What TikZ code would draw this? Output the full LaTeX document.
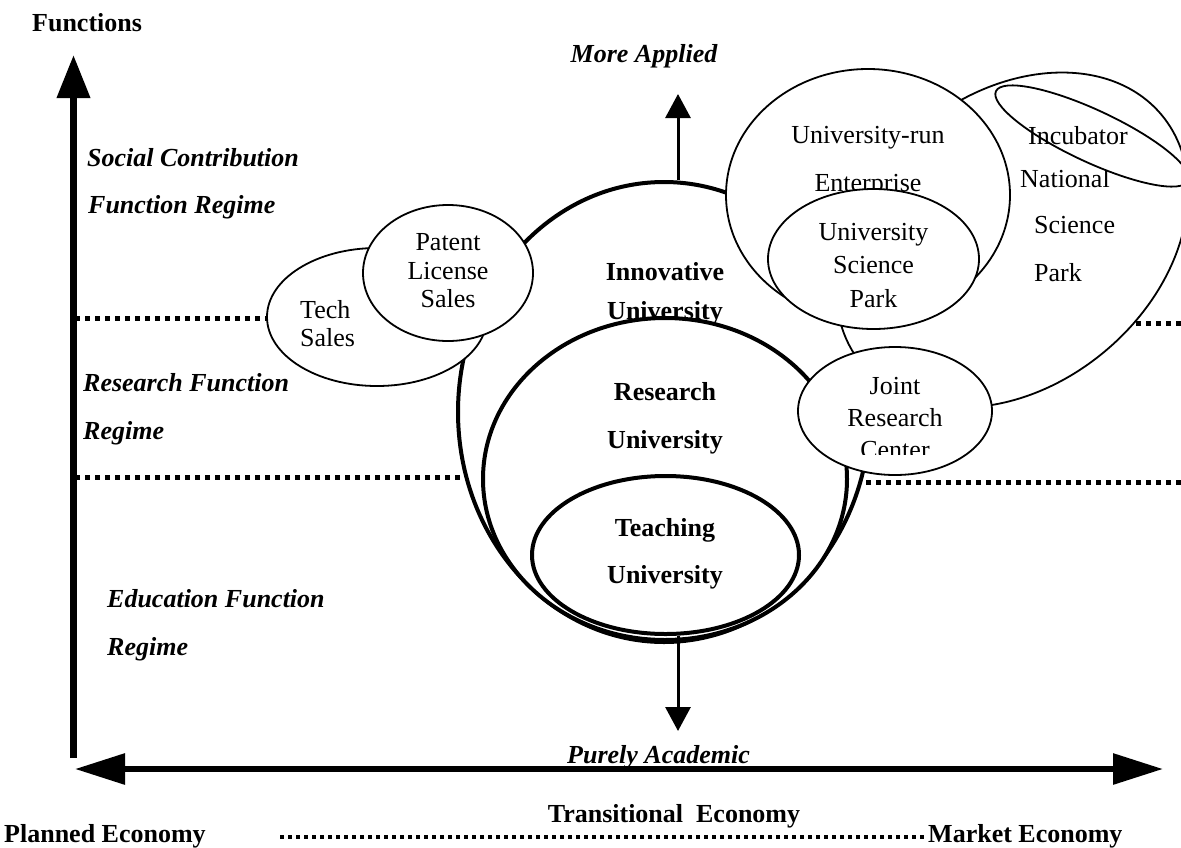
\documentclass[tikz,border=0pt]{standalone}
\usepackage{fontspec}
\setmainfont{Liberation Serif}
\usetikzlibrary{shapes.geometric,arrows.meta}

\begin{document}
\begin{tikzpicture}[x=1pt,y=-1pt,
  txt/.style={inner sep=0pt, font=\fontsize{26}{31}\selectfont},
  bf/.style={inner sep=0pt, font=\fontsize{26}{31}\selectfont\bfseries},
  bfit/.style={inner sep=0pt, font=\fontsize{26}{31}\selectfont\bfseries\itshape},
  oval/.style={ellipse, draw, fill=white, inner sep=0pt, line width=1.8pt},
  thickoval/.style={oval, line width=4pt},
  divider/.style={line width=5pt, dash pattern=on 5pt off 5pt},
  smallarrow/.style={line width=3pt, -{Triangle[length=24pt,width=25pt]}}
]
\useasboundingbox (0,0) rectangle (1181,847);

% regime dividers (drawn first, the ovals cover their inner ends)
\coordinate (d1a) at (75,318);   \coordinate (d1b) at (300,318);
\coordinate (d2a) at (75,477);   \coordinate (d2b) at (520,477);
\coordinate (d3a) at (1181,323); \coordinate (d3b) at (1100,323);
\coordinate (d4a) at (1181,482); \coordinate (d4b) at (820,482);
\draw[divider] (d1a) -- (d1b);
\draw[divider] (d2a) -- (d2b);
\draw[divider] (d3a) -- (d3b);
\draw[divider] (d4a) -- (d4b);

% axes
\coordinate (yfoot) at (73.5,758); \coordinate (ytip) at (73.5,55);
\draw[line width=7pt, -{Triangle[length=43pt,width=32pt]}] (yfoot) -- (ytip);
\coordinate (xl) at (75,769); \coordinate (xr) at (1163,769);
\draw[line width=6pt, {Triangle[length=50pt,width=30pt]}-{Triangle[length=50pt,width=30pt]}] (xl) -- (xr);

% innovative university
\node[thickoval, minimum width=412pt, minimum height=460pt] (innov) at (664,412) {};
\node[bf, anchor=base] (innovA) at (665,280) {Innovative};
\node[bf, anchor=base] (innovB) at (665,319) {University};

% tech sales and patent licensing
\node[oval, minimum width=220pt, minimum height=138pt] (tech) at (377,317) {};
\node[txt, anchor=base west] (techA) at (300,318) {Tech};
\node[txt, anchor=base west] (techB) at (300,346) {Sales};
\node[oval, minimum width=170pt, minimum height=136pt] (pat) at (448,273) {};
\node[txt, anchor=base] (patA) at (448,250) {Patent};
\node[txt, anchor=base] (patB) at (448,279) {License};
\node[txt, anchor=base] (patC) at (448,307) {Sales};

% national science park
\node[oval, rotate=40, minimum width=390pt, minimum height=290pt] (nsp) at (1012,240) {};

% research and teaching universities
\node[thickoval, minimum width=364pt, minimum height=322pt] (res) at (665,479) {};
\node[bf, anchor=base] (resA) at (665,400) {Research};
\node[bf, anchor=base] (resB) at (665,448) {University};
\node[thickoval, minimum width=267pt, minimum height=158pt] (teach) at (665.5,555) {};
\node[bf, anchor=base] (teachA) at (665,536) {Teaching};
\node[bf, anchor=base] (teachB) at (665,583) {University};

% university-run enterprise and university science park
\node[oval, minimum width=284pt, minimum height=252pt] (ure) at (868,195) {};
\node[txt, anchor=base] (ureA) at (868,143) {University-run};
\node[txt, anchor=base] (ureB) at (868,191) {Enterprise};
\node[oval, minimum width=211pt, minimum height=140pt] (usp) at (873.5,259) {};
\node[txt, anchor=base] (uspA) at (873.5,240) {University};
\node[txt, anchor=base] (uspB) at (873.5,273) {Science};
\node[txt, anchor=base] (uspC) at (873.5,307) {Park};

% national science park labels and incubator
\node[txt, anchor=base west] (nspA) at (1020,187) {National};
\node[txt, anchor=base west] (nspB) at (1034,233) {Science};
\node[txt, anchor=base west] (nspC) at (1034,281) {Park};
\node[oval, rotate=-25, minimum width=212pt, minimum height=52pt] (incu) at (1092,136) {};
\node[txt, anchor=base west] (incuA) at (1028,144) {Incubator};

% joint research center
\node[oval, minimum width=194pt, minimum height=128pt] (jrc) at (895,411) {};
\node[txt, anchor=base] (jrcA) at (895,394) {Joint};
\node[txt, anchor=base] (jrcB) at (895,426) {Research};
\begin{scope}
  \clip (790,430) rectangle (1000,454);
  \node[txt, anchor=base] (jrcC) at (895,458) {Center};
\end{scope}

% applied / academic arrows
\coordinate (uptip) at (678,94);
\coordinate (downtip) at (678,731);
\draw[smallarrow] (innov.north -| uptip) -- (uptip);
\draw[smallarrow] (teach.south -| downtip) -- (downtip);

% axis and regime labels
\node[bf, anchor=base west] (fn) at (32,31) {Functions};
\node[bfit, anchor=base] (applied) at (644,62) {More Applied};
\node[bfit, anchor=base west] (socA) at (87,166) {Social Contribution};
\node[bfit, anchor=base west] (socB) at (88,213) {Function Regime};
\node[bfit, anchor=base west] (rfA) at (83,391) {Research Function};
\node[bfit, anchor=base west] (rfB) at (83,439) {Regime};
\node[bfit, anchor=base west] (efA) at (107,607) {Education Function};
\node[bfit, anchor=base west] (efB) at (107,655) {Regime};
\node[bfit, anchor=base west] (acad) at (567,763) {Purely Academic};

% economy scale
\node[bf, anchor=base] (trans) at (674,822) {Transitional\ \ Economy};
\node[bf, anchor=base west] (plan) at (4,842) {Planned Economy};
\node[bf, anchor=base west] (mark) at (928,842) {Market Economy};
\coordinate (e1) at (280,837); \coordinate (e2) at (926,837);
\draw[line width=4pt, dash pattern=on 4pt off 4pt] (e1) -- (e2);
\end{tikzpicture}
\end{document}
